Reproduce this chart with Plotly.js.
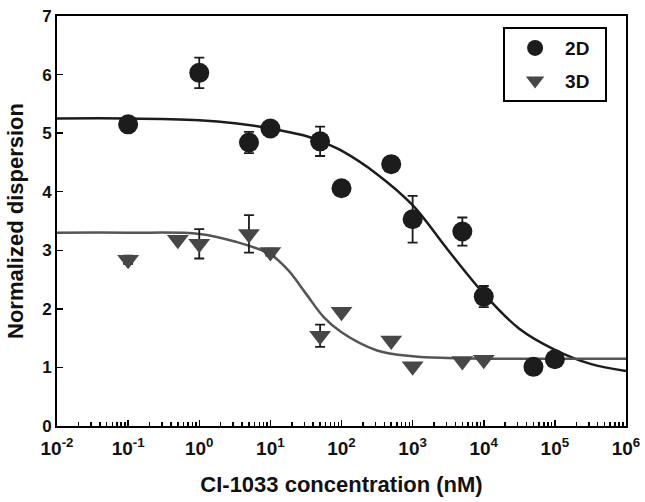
<!DOCTYPE html>
<html>
<head>
<meta charset="utf-8">
<script src="https://cdn.plot.ly/plotly-3.0.1.min.js"></script>
<style>html,body{margin:0;padding:0;background:#fff;}#chart{width:645px;height:502px;}</style>
</head>
<body>
<div id="chart"></div>
<script>
// 2D data (circles)
const x2D = [0.1, 1, 5, 10, 50, 100, 500, 1000, 5000, 10000, 50000, 100000];
const y2D = [5.15, 6.03, 4.84, 5.08, 4.86, 4.06, 4.47, 3.53, 3.32, 2.21, 1.01, 1.14];
const e2D = [0.05, 0.26, 0.18, 0.05, 0.25, 0, 0, 0.40, 0.24, 0.18, 0, 0];
// 3D data (triangles)
const x3D = [0.1, 0.5, 1, 5, 10, 50, 100, 500, 1000, 5000, 10000];
const y3D = [2.84, 3.18, 3.11, 3.28, 2.97, 1.54, 1.95, 1.46, 1.02, 1.11, 1.13];
const e3D = [0.07, 0, 0.25, 0.32, 0.06, 0.19, 0, 0, 0, 0, 0];
// fitted curves
const xFit = [0.01, 0.1, 1, 3.16, 10, 17.8, 31.6, 56.2, 100, 316, 1000, 3160, 10000, 31600, 100000, 316000, 1000000];
const fit2D = [5.25, 5.25, 5.22, 5.17, 5.08, 5.02, 4.95, 4.84, 4.70, 4.30, 3.77, 3.00, 2.26, 1.66, 1.30, 1.06, 0.94];
const fit3D = [3.30, 3.30, 3.28, 3.15, 2.93, 2.66, 2.26, 1.86, 1.60, 1.29, 1.19, 1.16, 1.15, 1.15, 1.15, 1.15, 1.15];
// axis ticks
const xTickVals = [0.01, 0.1, 1, 10, 100, 1000, 10000, 100000, 1000000];
const xTickText = ['10<sup>-2</sup>','10<sup>-1</sup>','10<sup>0</sup>','10<sup>1</sup>','10<sup>2</sup>','10<sup>3</sup>','10<sup>4</sup>','10<sup>5</sup>','10<sup>6</sup>'];

const c2 = '#1c1c1c', c3 = '#474747';
const font = 'Liberation Sans, Arial, sans-serif';

const traces = [
  {x: xFit, y: fit2D, mode: 'lines', line: {color: c2, width: 2.5, shape: 'spline'}, showlegend: false, hoverinfo: 'skip'},
  {x: xFit, y: fit3D, mode: 'lines', line: {color: '#555555', width: 2.5, shape: 'spline'}, showlegend: false, hoverinfo: 'skip'},
  {x: x2D, y: y2D, name: '2D&nbsp;&nbsp;', legendgroup: 'a', mode: 'markers', marker: {symbol: 'circle', size: 20, color: c2},
   error_y: {type: 'data', array: e2D, visible: true, color: c2, thickness: 1.8, width: 5}},
  {x: x3D, y: y3D, name: '3D&nbsp;&nbsp;', legendgroup: 'b', mode: 'markers', marker: {symbol: 'triangle-down', size: 19, color: c3},
   error_y: {type: 'data', array: e3D, visible: true, color: c2, thickness: 1.8, width: 5}}
];

const layout = {
  width: 645, height: 502,
  margin: {l: 57, r: 19, t: 16, b: 76},
  paper_bgcolor: '#fff', plot_bgcolor: '#fff',
  font: {family: font, color: '#111'},
  xaxis: {
    type: 'log', range: [-2, 6],
    tickmode: 'array', tickvals: xTickVals, ticktext: xTickText,
    ticks: 'inside', ticklen: 6, tickwidth: 1.5, tickcolor: '#000',
    minor: {dtick: 'D1', ticks: 'inside', ticklen: 4, tickwidth: 1.5, tickcolor: '#000', showgrid: false},
    showline: true, linewidth: 2, linecolor: '#000', mirror: true,
    showgrid: false, zeroline: false,
    ticklabelstandoff: 4,
    tickfont: {family: font, size: 19, color: '#111', weight: 'bold'},
    title: {text: '<b>CI-1033 concentration (nM)</b>', font: {family: font, size: 22, color: '#111'}, standoff: 19}
  },
  yaxis: {
    range: [0, 7], dtick: 1, tick0: 0,
    ticks: 'inside', ticklen: 6, tickwidth: 1.5, tickcolor: '#000',
    showline: true, linewidth: 2, linecolor: '#000', mirror: true,
    showgrid: false, zeroline: false,
    tickfont: {family: font, size: 17, color: '#111', weight: 'bold'},
    title: {text: '<b>Normalized dispersion</b>', font: {family: font, size: 22, color: '#111'}, standoff: 12}
  },
  legend: {
    x: 0.784, y: 0.973, xanchor: 'left', yanchor: 'top',
    bgcolor: '#fff', bordercolor: '#000', borderwidth: 2,
    font: {family: font, size: 19, color: '#111', weight: 'bold'},
    itemsizing: 'trace', itemwidth: 50, traceorder: 'grouped', tracegroupgap: 5
  },
  showlegend: true
};

Plotly.newPlot('chart', traces, layout, {displayModeBar: false, staticPlot: true});
</script>
</body>
</html>
